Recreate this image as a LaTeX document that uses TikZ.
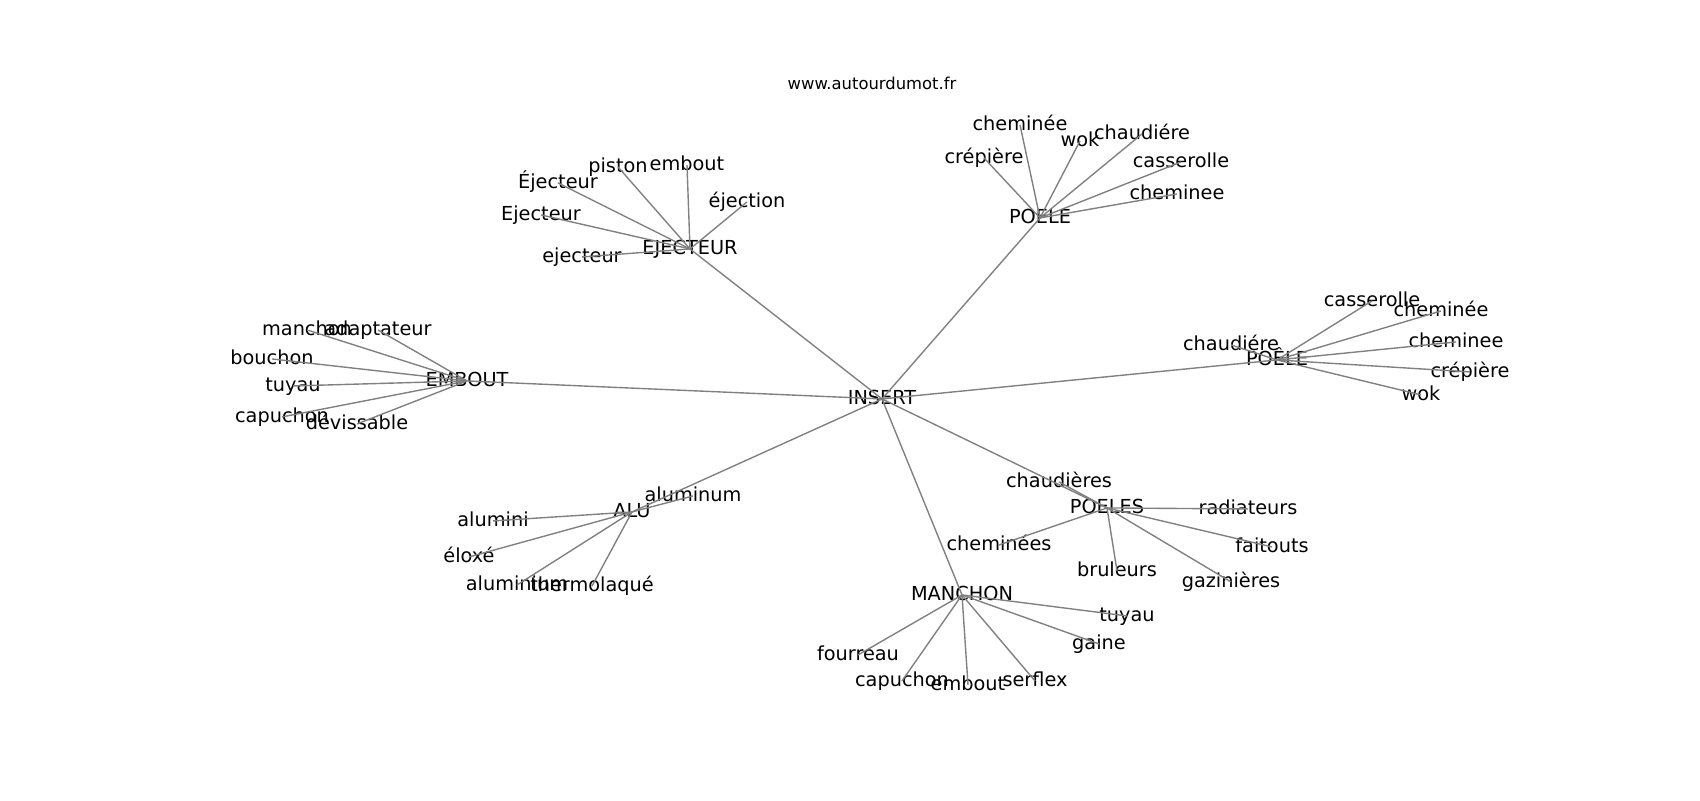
\documentclass[tikz,border=0pt]{standalone}
\usepackage{fontspec}
\setmainfont{DejaVu Sans}
\begin{document}
\begin{tikzpicture}[x=0.72pt,y=-0.72pt,
  lbl/.style={inner sep=0pt,anchor=center,text height=0.73em,text depth=0pt,yshift=-1.4pt,font=\fontsize{13.9}{16}\selectfont},
  ttl/.style={inner sep=0pt,anchor=center,text height=0.73em,text depth=0pt,yshift=-1pt,font=\fontsize{11.8}{14}\selectfont},
  edge/.style={draw=gray,line width=1pt}]
\useasboundingbox (0,0) rectangle (1700,800);
\node[ttl] (title) at (872,83) {www.autourdumot.fr};
% hubs
\node[lbl] (ins) at (882,397) {INSERT};
\node[lbl] (ej) at (690,247) {EJECTEUR};
\node[lbl] (pa) at (1040,216) {POELE};
\node[lbl] (pb) at (1277,358) {POÊLE};
\node[lbl] (em) at (467,379) {EMBOUT};
\node[lbl] (alu) at (632,510) {ALU};
\node[lbl] (ps) at (1107,506) {POELES};
\node[lbl] (ma) at (962,593) {MANCHON};
% EJECTEUR
\node[lbl] (ej1) at (618,165) {piston};
\node[lbl] (ej2) at (687,163) {embout};
\node[lbl] (ej3) at (558,181) {Éjecteur};
\node[lbl] (ej4) at (747,200) {éjection};
\node[lbl] (ej5) at (541,213) {Ejecteur};
\node[lbl] (ej6) at (582,255) {ejecteur};
% POELE
\node[lbl] (pa1) at (1020,123) {cheminée};
\node[lbl] (pa2) at (1080,139) {wok};
\node[lbl] (pa3) at (1142,132) {chaudiére};
\node[lbl] (pa4) at (984,156) {crépière};
\node[lbl] (pa5) at (1181,160) {casserolle};
\node[lbl] (pa6) at (1177,192) {cheminee};
% POÊLE
\node[lbl] (pb1) at (1372,299) {casserolle};
\node[lbl] (pb2) at (1441,309) {cheminée};
\node[lbl] (pb3) at (1231,343) {chaudiére};
\node[lbl] (pb4) at (1456,340) {cheminee};
\node[lbl] (pb5) at (1470,370) {crépière};
\node[lbl] (pb6) at (1421,393) {wok};
% EMBOUT
\node[lbl] (em1) at (307,328) {manchon};
\node[lbl] (em2) at (378,328) {adaptateur};
\node[lbl] (em3) at (272,357) {bouchon};
\node[lbl] (em4) at (293,384) {tuyau};
\node[lbl] (em5) at (282,415) {capuchon};
\node[lbl] (em6) at (357,422) {dévissable};
% ALU
\node[lbl] (al1) at (693,494) {aluminum};
\node[lbl] (al2) at (493,519) {alumini};
\node[lbl] (al3) at (469,555) {éloxé};
\node[lbl] (al4) at (517,583) {aluminium};
\node[lbl] (al5) at (592,584) {thermolaqué};
% POELES
\node[lbl] (ps1) at (1059,480) {chaudières};
\node[lbl] (ps2) at (1248,507) {radiateurs};
\node[lbl] (ps3) at (999,543) {cheminées};
\node[lbl] (ps4) at (1272,545) {faitouts};
\node[lbl] (ps5) at (1117,569) {bruleurs};
\node[lbl] (ps6) at (1231,580) {gazinières};
% MANCHON
\node[lbl] (ma1) at (1127,614) {tuyau};
\node[lbl] (ma2) at (1099,642) {gaine};
\node[lbl] (ma3) at (858,653) {fourreau};
\node[lbl] (ma4) at (902,679) {capuchon};
\node[lbl] (ma5) at (968,683) {embout};
\node[lbl] (ma6) at (1035,679) {serflex};
% edges
\foreach \h in {ej,pa,pb,em,alu,ps,ma}
  \draw[edge] (ins.center) -- (\h.center);
\foreach \c in {ej1,ej2,ej3,ej4,ej5,ej6}
  \draw[edge] (ej.center) -- (\c.center);
\foreach \c in {pa1,pa2,pa3,pa4,pa5,pa6}
  \draw[edge] (pa.center) -- (\c.center);
\foreach \c in {pb1,pb2,pb3,pb4,pb5,pb6}
  \draw[edge] (pb.center) -- (\c.center);
\foreach \c in {em1,em2,em3,em4,em5,em6}
  \draw[edge] (em.center) -- (\c.center);
\foreach \c in {al1,al2,al3,al4,al5}
  \draw[edge] (alu.center) -- (\c.center);
\foreach \c in {ps1,ps2,ps3,ps4,ps5,ps6}
  \draw[edge] (ps.center) -- (\c.center);
\foreach \c in {ma1,ma2,ma3,ma4,ma5,ma6}
  \draw[edge] (ma.center) -- (\c.center);
\end{tikzpicture}
\end{document}
